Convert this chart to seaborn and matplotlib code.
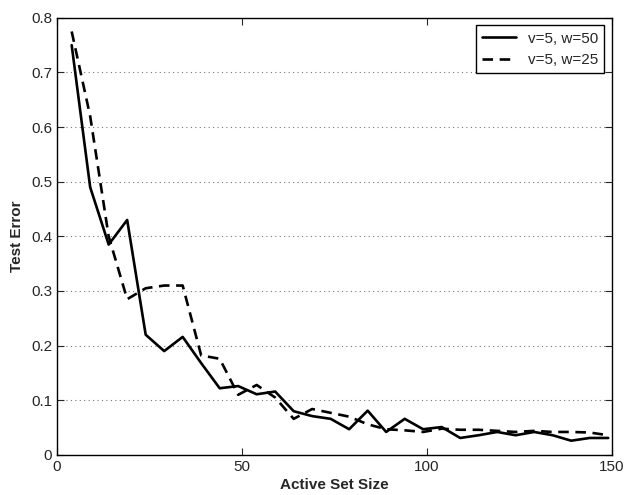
import pandas as pd
import matplotlib.pyplot as plt
import seaborn as sns

set_size = [4, 9, 14, 19, 24, 29, 34, 39, 44, 49, 54, 59, 64, 69, 74,
            79, 84, 89, 94, 99, 104, 109, 114, 119, 124, 129, 134, 139, 144, 149]
err_w50 = [0.75, 0.49, 0.385, 0.43, 0.22, 0.19, 0.216, 0.168, 0.122, 0.126,
           0.111, 0.116, 0.08, 0.071, 0.066, 0.047, 0.081, 0.042, 0.066, 0.047,
           0.051, 0.031, 0.036, 0.042, 0.036, 0.042, 0.036, 0.026, 0.031, 0.031]
err_w25 = [0.775, 0.62, 0.40, 0.285, 0.305, 0.31, 0.31, 0.182, 0.176, 0.11,
           0.128, 0.105, 0.066, 0.084, 0.077, 0.07, 0.056, 0.047, 0.045, 0.042,
           0.048, 0.046, 0.046, 0.044, 0.042, 0.044, 0.042, 0.042, 0.041, 0.036]
labels = ['v=5, w=50', 'v=5, w=25']

df = pd.concat([
    pd.DataFrame({'size': set_size, 'err': err_w50, 'run': labels[0]}),
    pd.DataFrame({'size': set_size, 'err': err_w25, 'run': labels[1]}),
])

sns.set_style("ticks")
plt.rcParams['font.family'] = ['Liberation Sans', 'DejaVu Sans']

fig = plt.figure(figsize=(6.25, 4.95), dpi=100)
ax = fig.add_axes([0.091, 0.081, 0.888, 0.883])
sns.lineplot(data=df, x='size', y='err', style='run', color='black',
             dashes={labels[0]: '', labels[1]: (4, 2.5)}, linewidth=1.9, ax=ax)

ax.set_xlim(0, 150)
ax.set_ylim(0, 0.8)
ax.set_xticks([0, 50, 100, 150])
ax.set_yticks([0, 0.1, 0.2, 0.3, 0.4, 0.5, 0.6, 0.7, 0.8])
ax.set_yticklabels(['0', '0.1', '0.2', '0.3', '0.4', '0.5', '0.6', '0.7', '0.8'])
ax.yaxis.grid(True, linestyle=(0, (1, 3)), color='#777777', linewidth=0.8)
ax.tick_params(direction='in', top=True, right=True, labelsize=11, length=5, width=0.8)
for s in ax.spines.values():
    s.set_linewidth(1.0)
    s.set_color('black')
ax.set_xlabel('Active Set Size', fontsize=11, fontweight='bold', labelpad=3)
ax.set_ylabel('Test Error', fontsize=11, fontweight='bold', labelpad=5)

leg = ax.legend(loc='upper right', fontsize=11, frameon=True, fancybox=False,
                edgecolor='black', handlelength=2.2, borderaxespad=0.5)
leg.get_frame().set_linewidth(1.0)
leg.get_frame().set_alpha(1)

plt.savefig('out.png', dpi=100)
